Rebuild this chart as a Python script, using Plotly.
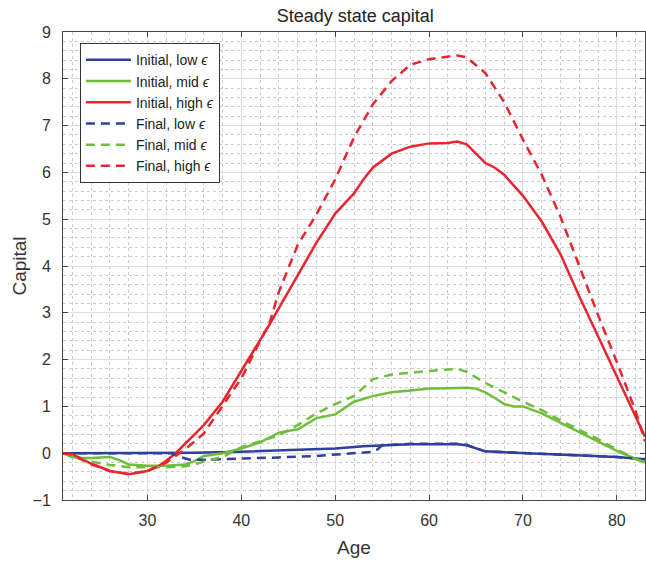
import plotly.graph_objects as go

# ---- data ----
red_init_age = [21, 22, 24, 26, 28, 30, 31, 32, 33, 34, 36, 38, 40, 42, 43, 44, 46, 48, 50, 52, 53, 54, 56, 58,
                60, 62, 63, 64, 65, 66, 67, 68, 70, 72, 74, 76, 78, 80, 82, 83]
red_init = [0, -0.02, -0.22, -0.38, -0.45, -0.38, -0.3, -0.16, 0.0, 0.2, 0.6, 1.1, 1.75, 2.4, 2.75, 3.1, 3.8, 4.5,
            5.12, 5.55, 5.85, 6.1, 6.4, 6.55, 6.62, 6.63, 6.66, 6.6, 6.4, 6.2, 6.1, 5.95, 5.5, 4.95, 4.25, 3.35,
            2.5, 1.65, 0.8, 0.35]

red_final_age = [21, 22, 24, 26, 28, 30, 32, 33, 34, 36, 38, 40, 42, 43, 44, 46, 48, 50, 52, 54, 56, 58, 60, 62,
                 63, 64, 65, 66, 68, 70, 72, 74, 76, 78, 80, 82, 83]
red_final = [0, -0.03, -0.24, -0.38, -0.44, -0.38, -0.2, -0.06, 0.08, 0.42, 1.0, 1.6, 2.4, 2.78, 3.45, 4.45, 5.1,
             5.85, 6.75, 7.45, 7.95, 8.3, 8.42, 8.48, 8.5, 8.46, 8.3, 8.12, 7.5, 6.7, 5.95, 5.05, 4.0, 2.95, 1.95,
             0.9, 0.25]

green_init_age = [21, 22, 23, 24, 26, 27, 28, 30, 32, 34, 35, 36, 38, 40, 42, 44, 46, 48, 50, 52, 54, 56, 58, 60,
                  62, 64, 65, 66, 67, 68, 69, 70, 72, 74, 76, 78, 80, 82, 83]
green_init = [0, -0.08, -0.1, -0.1, -0.08, -0.15, -0.24, -0.27, -0.27, -0.24, -0.17, -0.06, 0.0, 0.1, 0.23, 0.44,
              0.51, 0.75, 0.83, 1.1, 1.22, 1.3, 1.34, 1.38, 1.39, 1.4, 1.38, 1.3, 1.18, 1.05, 1.0, 1.0, 0.85, 0.65,
              0.45, 0.25, 0.05, -0.12, -0.2]

green_final_age = [21, 22, 24, 26, 28, 30, 32, 34, 35, 36, 38, 40, 42, 44, 46, 48, 50, 52, 54, 56, 58, 60, 62, 63,
                   64, 66, 68, 70, 72, 74, 76, 78, 80, 82, 83]
green_final = [0, -0.08, -0.18, -0.25, -0.3, -0.3, -0.3, -0.28, -0.24, -0.18, -0.08, 0.13, 0.25, 0.38, 0.6, 0.85,
               1.05, 1.22, 1.58, 1.68, 1.72, 1.76, 1.79, 1.8, 1.74, 1.5, 1.3, 1.1, 0.92, 0.7, 0.5, 0.3, 0.08,
               -0.12, -0.2]

blue_init_age = [21, 30, 35, 40, 45, 50, 53, 56, 58, 60, 63, 64, 65, 66, 68, 70, 75, 80, 83]
blue_init = [0, 0, 0.01, 0.03, 0.06, 0.1, 0.15, 0.18, 0.19, 0.19, 0.19, 0.17, 0.1, 0.04, 0.02, 0.0, -0.04, -0.08,
             -0.13]

blue_final_age = [21, 32.5, 33.5, 34.5, 36, 40, 44, 48, 52, 54, 54.5, 55, 58, 60, 63, 64, 65, 66, 68, 70, 75, 80, 83]
blue_final = [0, 0, -0.08, -0.14, -0.14, -0.12, -0.09, -0.06, -0.01, 0.03, 0.08, 0.17, 0.2, 0.2, 0.2, 0.18, 0.1,
              0.04, 0.02, 0.0, -0.04, -0.08, -0.13]

series_names = ["Initial, low <i>ϵ</i>", "Initial, mid <i>ϵ</i>", "Initial, high <i>ϵ</i>",
                "Final, low <i>ϵ</i>", "Final, mid <i>ϵ</i>", "Final, high <i>ϵ</i>"]

BLUE = "rgb(48,62,160)"
GREEN = "rgb(110,190,60)"
RED = "rgb(232,38,48)"
DASH = "9px,6px"

fig = go.Figure()
specs = [
    (blue_init_age, blue_init, BLUE, "solid"),
    (green_init_age, green_init, GREEN, "solid"),
    (red_init_age, red_init, RED, "solid"),
    (blue_final_age, blue_final, BLUE, DASH),
    (green_final_age, green_final, GREEN, DASH),
    (red_final_age, red_final, RED, DASH),
]
for (xs, ys, col, dash), name in zip(specs, series_names):
    fig.add_trace(go.Scatter(x=xs, y=ys, mode="lines", name=name,
                             line=dict(color=col, width=2.5, dash=dash)))

FONT = "Liberation Sans, Arial, sans-serif"
axis_common = dict(
    showline=True, linecolor="#444444", linewidth=1, mirror="ticks",
    ticks="inside", ticklen=5, tickcolor="#444444",
    showgrid=True, gridcolor="#dddddd", gridwidth=1,
    zeroline=False,
    tickfont=dict(family=FONT, size=16, color="#333333"),
)

fig.update_xaxes(range=[21, 83], tick0=0, dtick=10, ticklabelstandoff=6,
                 minor=dict(dtick=2, showgrid=True, gridcolor="#cccccc", griddash="dot", gridwidth=1, ticks=""),
                 title=dict(text="Age", font=dict(family=FONT, size=19, color="#333333"), standoff=12),
                 **axis_common)
fig.update_yaxes(range=[-1, 9], tick0=0, dtick=1, ticklabelstandoff=8,
                 minor=dict(dtick=0.2, showgrid=True, gridcolor="#cccccc", griddash="dot", gridwidth=1, ticks=""),
                 title=dict(text="Capital", font=dict(family=FONT, size=19, color="#333333"), standoff=0),
                 **axis_common)

fig.update_layout(
    width=646, height=563,
    margin=dict(l=63, r=1, t=32, b=63),
    plot_bgcolor="white", paper_bgcolor="white",
    title=dict(text="Steady state capital", x=0.55, xanchor="center", y=0.973, yanchor="middle",
               font=dict(family=FONT, size=18, color="#222222")),
    legend=dict(x=0.029, y=0.976, xanchor="left", yanchor="top",
                bgcolor="white", bordercolor="#333333", borderwidth=1,
                font=dict(family=FONT, size=14, color="#222222"),
                itemwidth=45, tracegroupgap=0),
    showlegend=True,
)

fig.write_html("out.html")
